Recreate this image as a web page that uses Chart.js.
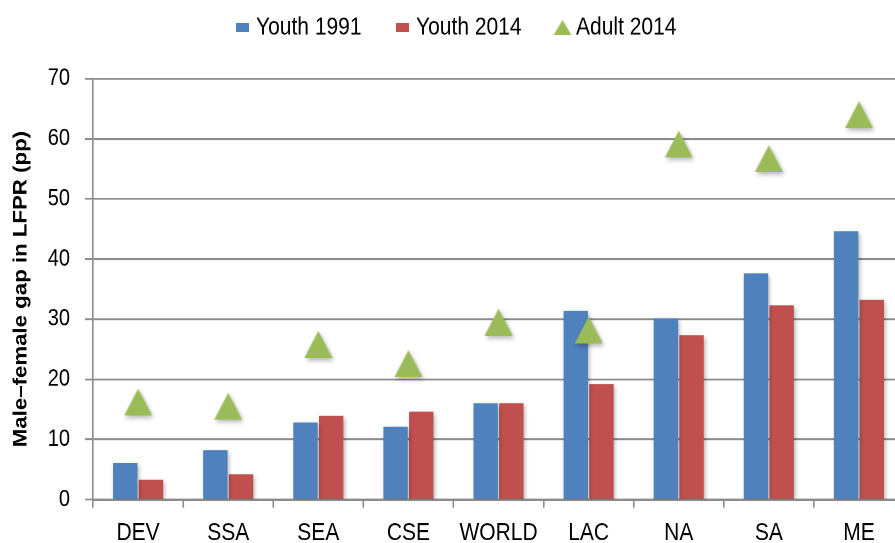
<!DOCTYPE html>
<html>
<head>
<meta charset="utf-8">
<script src="https://cdn.jsdelivr.net/npm/chart.js@4/dist/chart.umd.min.js"></script>
<style>
    html, body { margin: 0; padding: 0; background: #fff; }
    #page { width: 895px; height: 543px; overflow: hidden; position: relative; }
    /* the source picture is stretched vertically, so the chart is too */
    #wrap { width: 904px; height: 464px; transform: scale(1, 1.1703); transform-origin: 0 0; }
    #chart { width: 904px; height: 464px; display: block; }
</style>
</head>
<body>
<div id="page"><div id="wrap"><canvas id="chart" width="904" height="464"></canvas></div></div>
<script>
var regions = ['DEV', 'SSA', 'SEA', 'CSE', 'WORLD', 'LAC', 'NA', 'SA', 'ME'];
var youth1991 = [6.1, 8.2, 12.8, 12.1, 16.0, 31.4, 30.1, 37.6, 44.6];
var youth2014 = [3.3, 4.2, 13.9, 14.6, 16.0, 19.2, 27.3, 32.3, 33.2];
var adult2014 = [16.2, 15.5, 25.8, 22.6, 29.5, 28.2, 59.1, 56.7, 64.0];
var yTicks = [0, 10, 20, 30, 40, 50, 60, 70];

var blue = '#4f81bd';
var red = '#c0504d';
var green = '#9bbb59';
var gridGray = '#8c8c8c';
var fontName = '"Liberation Sans", Arial, sans-serif';

function triangle(w, h, color) {
    var c = document.createElement('canvas');
    c.width = w;
    c.height = h;
    var g = c.getContext('2d');
    g.fillStyle = color;
    g.beginPath();
    g.moveTo(w / 2, 0);
    g.lineTo(w, h);
    g.lineTo(0, h);
    g.closePath();
    g.fill();
    return c;
}

function box(w, h, color) {
    var c = document.createElement('canvas');
    c.width = w;
    c.height = h;
    var g = c.getContext('2d');
    g.fillStyle = color;
    g.fillRect(0, 0, w, h);
    return c;
}

var marker = triangle(28, 23, green);
var legendIcons = [box(13, 8, blue), box(13, 8, red), triangle(18, 13, green)];

// soft drop shadow under bars and markers, like the office chart
var shadowPlugin = {
    id: 'shadow',
    beforeDatasetsDraw: function(chart) {
        var ctx = chart.ctx;
        var r = chart.currentDevicePixelRatio || 1;
        ctx.save();
        ctx.shadowColor = 'rgba(0, 0, 0, 0.3)';
        ctx.shadowBlur = 4 * r;
        ctx.shadowOffsetX = 1.5 * r;
        ctx.shadowOffsetY = 2 * r;
    },
    afterDatasetsDraw: function(chart) {
        chart.ctx.restore();
    }
};

new Chart(document.getElementById('chart'), {
    type: 'bar',
    data: {
        labels: regions,
        datasets: [{
            label: 'Youth 1991',
            data: youth1991,
            backgroundColor: blue,
            borderWidth: 0,
            categoryPercentage: 0.57,
            barPercentage: 0.95
        }, {
            label: 'Youth 2014',
            data: youth2014,
            backgroundColor: red,
            borderWidth: 0,
            categoryPercentage: 0.57,
            barPercentage: 0.95
        }, {
            type: 'line',
            label: 'Adult 2014',
            data: adult2014,
            showLine: false,
            backgroundColor: green,
            pointStyle: marker,
            pointRadius: 12,
            order: -1
        }]
    },
    options: {
        responsive: false,
        devicePixelRatio: 2,
        animation: false,
        layout: {
            autoPadding: false,
            padding: { top: -25, left: 0, right: -12, bottom: -14 }
        },
        plugins: {
            tooltip: { enabled: false },
            // empty title used only as a gap between legend and plot
            title: {
                display: true,
                text: '',
                weight: 500,
                font: { size: 1 },
                padding: { top: 11, bottom: 11 }
            },
            legend: {
                position: 'top',
                labels: {
                    usePointStyle: true,
                    boxWidth: 6,
                    padding: 38,
                    color: '#000',
                    font: { family: fontName, size: 21 },
                    generateLabels: function(chart) {
                        return chart.data.datasets.map(function(ds, i) {
                            return {
                                text: ds.label,
                                pointStyle: legendIcons[i],
                                fillStyle: ds.backgroundColor,
                                strokeStyle: 'rgba(0,0,0,0)',
                                lineWidth: 0,
                                hidden: false,
                                datasetIndex: i
                            };
                        });
                    }
                }
            }
        },
        scales: {
            x: {
                // plot runs right to the canvas edge, the last column is cut like the source
                afterFit: function(scale) {
                    scale.paddingLeft = 0;
                    scale.paddingRight = 0;
                },
                grid: {
                    offset: true,
                    drawOnChartArea: false,
                    tickLength: 7,
                    color: gridGray,
                    lineWidth: 1.6
                },
                border: { color: gridGray, width: 2 },
                ticks: {
                    color: '#000',
                    padding: 9.5,
                    autoSkip: false,
                    maxRotation: 0,
                    font: { family: fontName, size: 21 }
                }
            },
            y: {
                min: 0,
                max: 70,
                afterBuildTicks: function(axis) {
                    axis.ticks = yTicks.map(function(v) { return { value: v }; });
                },
                grid: {
                    color: gridGray,
                    lineWidth: 1.6,
                    tickLength: 8
                },
                border: { color: gridGray, width: 1.6 },
                ticks: {
                    color: '#000',
                    padding: 15,
                    font: { family: fontName, size: 20 }
                },
                title: {
                    display: true,
                    text: 'Male\u2013female gap in LFPR (pp)',
                    color: '#000',
                    padding: { top: 10, bottom: 0 },
                    font: { family: fontName, size: 19, weight: 'bold' }
                }
            }
        }
    },
    plugins: [shadowPlugin]
});
</script>
</body>
</html>
